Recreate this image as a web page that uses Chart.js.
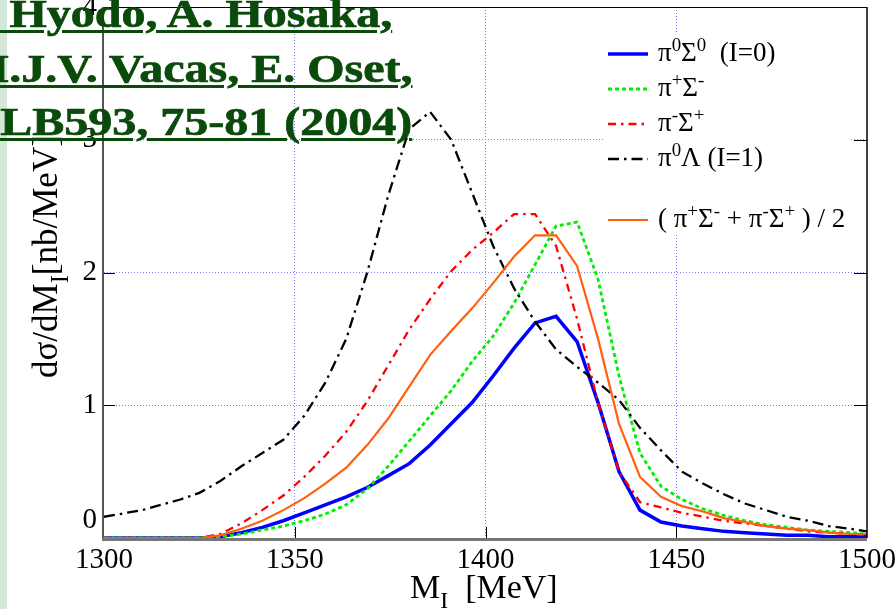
<!DOCTYPE html>
<html>
<head>
<meta charset="utf-8">
<script src="https://cdn.jsdelivr.net/npm/chart.js@4.4.1/dist/chart.umd.min.js"></script>
<style>
  body { margin: 0; background: #fff; }
  #wrap { position: relative; width: 896px; height: 609px; overflow: hidden; background: #fff; }
  #strip { position: absolute; left: 0; top: 0; width: 7px; height: 609px; background: #d3e8d9; }
  #chart { position: absolute; left: 0; top: 0; }
  .ref {
    position: absolute;
    font: bold 40px "Liberation Serif", "Times New Roman", serif;
    line-height: 40px;
    color: #0a4a0a;
    -webkit-text-stroke: 0.7px #0a4a0a;
    white-space: nowrap;
    text-decoration: underline;
    text-decoration-thickness: 3px;
    text-underline-offset: 3px;
    transform: scaleX(1.2);
    transform-origin: 0 0;
  }
</style>
</head>
<body>
<div id="wrap">
  <div id="strip"></div>
  <canvas id="chart" width="896" height="609"></canvas>
  <div class="ref" style="top:-6px;left:-43px">T. Hyodo, A. Hosaka,</div>
  <div class="ref" style="top:49px;left:-36px">M.J.V. Vacas, E. Oset,</div>
  <div class="ref" style="top:102px;left:-29px">PLB593, 75-81 (2004)</div>
</div>
<script>
// invariant mass M_I [MeV]
const masses = [1300, 1310, 1320, 1325, 1330.5, 1336, 1341.5, 1347, 1352.5, 1358,
  1363.5, 1369, 1374.5, 1380, 1385.5, 1391, 1396.5, 1402, 1407.5, 1413,
  1418.5, 1424, 1429.5, 1435, 1440.5, 1446, 1451.5, 1457, 1462.5, 1468,
  1473.5, 1479, 1484.5, 1490, 1495.5, 1500];

// dsigma/dM_I [nb/MeV]
const pi0Sigma0 = [0, 0, 0, 0, 0.01, 0.04, 0.08, 0.13, 0.19, 0.25,
  0.31, 0.38, 0.47, 0.56, 0.70, 0.86, 1.02, 1.22, 1.43, 1.62,
  1.67, 1.48, 1.02, 0.50, 0.21, 0.12, 0.09, 0.07, 0.05, 0.04,
  0.03, 0.02, 0.02, 0.01, 0.01, 0.01];
const piPlusSigmaMinus = [0, 0, 0, 0, 0.01, 0.03, 0.06, 0.09, 0.13, 0.18,
  0.25, 0.37, 0.54, 0.73, 0.92, 1.11, 1.33, 1.52, 1.77, 2.06,
  2.35, 2.38, 1.95, 1.22, 0.64, 0.39, 0.29, 0.22, 0.17, 0.13,
  0.10, 0.08, 0.06, 0.05, 0.04, 0.03];
const piMinusSigmaPlus = [0, 0, 0, 0, 0.03, 0.11, 0.21, 0.32, 0.46, 0.62,
  0.80, 1.03, 1.30, 1.57, 1.80, 2.01, 2.17, 2.30, 2.44, 2.44,
  2.20, 1.65, 1.02, 0.50, 0.27, 0.23, 0.19, 0.16, 0.13, 0.11,
  0.09, 0.07, 0.05, 0.04, 0.03, 0.02];
const pi0Lambda = [0.16, 0.21, 0.29, 0.34, 0.43, 0.54, 0.64, 0.74, 0.92, 1.17,
  1.50, 2.00, 2.58, 3.08, 3.21, 3.00, 2.60, 2.20, 1.88, 1.63,
  1.42, 1.29, 1.17, 1.04, 0.83, 0.66, 0.50, 0.41, 0.33, 0.26,
  0.21, 0.16, 0.13, 0.09, 0.07, 0.05];
const chargedAverage = [0, 0, 0, 0, 0.02, 0.07, 0.13, 0.21, 0.30, 0.41,
  0.53, 0.70, 0.90, 1.14, 1.38, 1.56, 1.73, 1.92, 2.12, 2.28,
  2.28, 2.05, 1.50, 0.86, 0.46, 0.31, 0.24, 0.20, 0.15, 0.12,
  0.09, 0.07, 0.06, 0.04, 0.03, 0.03];

const xTicks = [1300, 1350, 1400, 1450, 1500];
const yTicks = [0, 1, 2, 3, 4];

// legend texts: [text, "sup"|undefined]
const legendTexts = [
  [["π"], ["0", "sup"], ["Σ"], ["0", "sup"], ["  (I=0)"]],
  [["π"], ["+", "sup"], ["Σ"], ["-", "sup"]],
  [["π"], ["-", "sup"], ["Σ"], ["+", "sup"]],
  [["π"], ["0", "sup"], ["Λ (I=1)"]],
  [["( π"], ["+", "sup"], ["Σ"], ["-", "sup"], [" + π"], ["-", "sup"], ["Σ"], ["+", "sup"], [" ) / 2"]]
];

const serif = '"Liberation Serif", "Times New Roman", serif';

function pts(ys) {
  return masses.map((m, i) => ({ x: m, y: ys[i] }));
}

function drawRich(ctx, parts, x, y, size) {
  parts.forEach(([t, k]) => {
    const s = k ? size * 0.7 : size;
    ctx.font = s + "px " + serif;
    let dy = 0;
    if (k === "sup") dy = -size * 0.38;
    if (k === "sub") dy = size * 0.3;
    ctx.fillText(t, x, y + dy);
    x += ctx.measureText(t).width;
  });
  return x;
}

function line(ctx, x1, y1, x2, y2) {
  ctx.beginPath();
  ctx.moveTo(x1, y1);
  ctx.lineTo(x2, y2);
  ctx.stroke();
}

// frame, inward ticks, axis titles and legend
const decorations = {
  id: "decorations",
  afterDatasetsDraw(chart) {
    const { ctx, chartArea: a, scales: { x, y } } = chart;
    ctx.save();
    ctx.setLineDash([]);
    ctx.strokeStyle = "#000";
    ctx.lineWidth = 1;
    yTicks.forEach(v => {
      if (v === yTicks[0] || v === yTicks[yTicks.length - 1]) return;
      const py = Math.round(y.getPixelForValue(v)) + 0.5;
      line(ctx, a.left, py, a.left + 11, py);
      line(ctx, a.right - 13, py, a.right, py);
    });
    xTicks.forEach(v => {
      if (v === xTicks[0] || v === xTicks[xTicks.length - 1]) return;
      const px = Math.round(x.getPixelForValue(v)) + 0.5;
      line(ctx, px, a.bottom, px, a.bottom - 11);
    });
    // frame
    ctx.strokeStyle = "#000";
    ctx.lineWidth = 1;
    line(ctx, a.left, a.top + 0.5, a.right, a.top + 0.5);
    ctx.lineWidth = 1.5;
    line(ctx, a.right, a.top, a.right, a.bottom);
    ctx.strokeStyle = "#555";
    ctx.lineWidth = 2;
    line(ctx, a.left - 1, a.top, a.left - 1, a.bottom);
    ctx.strokeStyle = "#777";
    ctx.lineWidth = 3;
    line(ctx, a.left - 2, a.bottom + 1.5, a.right, a.bottom + 1.5);

    // axis titles
    ctx.fillStyle = "#000";
    ctx.textBaseline = "alphabetic";
    ctx.textAlign = "left";
    drawRich(ctx, [["M"], ["I", "sub"], ["  [MeV]"]], 410, 598, 34);
    ctx.save();
    ctx.translate(57, 378);
    ctx.rotate(-Math.PI / 2);
    drawRich(ctx, [["dσ/dM"], ["I", "sub"], ["[nb/MeV]"]], 0, 0, 35);
    ctx.restore();

    // legend
    ctx.fillStyle = "#fff";
    ctx.fillRect(603, 33, 247, 200);
    const baselines = [61, 96, 131, 166, 227];
    chart.data.datasets.forEach((ds, i) => {
      const ly = baselines[i] - 7;
      ctx.strokeStyle = ds.borderColor;
      ctx.lineWidth = ds.borderWidth;
      ctx.setLineDash(ds.borderDash || []);
      line(ctx, 608, ly, 648, ly);
      ctx.setLineDash([]);
      ctx.fillStyle = "#000";
      drawRich(ctx, legendTexts[i], 658, baselines[i], 27);
    });
    ctx.restore();
  }
};

const gridColor = (edges) => (c) =>
  c.tick && edges.includes(c.tick.value) ? "rgba(0,0,0,0)" : "#7b7bff";

const ctx = document.getElementById("chart").getContext("2d");
const chart = new Chart(ctx, {
  type: "line",
  data: {
    datasets: [
      { label: "pi0 Sigma0 (I=0)", data: pts(pi0Sigma0), borderColor: "#0000ff", borderWidth: 3.5, order: 5 },
      { label: "pi+ Sigma-", data: pts(piPlusSigmaMinus), borderColor: "#00ee00", borderWidth: 2.8, borderDash: [4, 3], order: 4 },
      { label: "pi- Sigma+", data: pts(piMinusSigmaPlus), borderColor: "#ff0000", borderWidth: 2.3, borderDash: [8, 5, 2.5, 5], order: 2 },
      { label: "pi0 Lambda (I=1)", data: pts(pi0Lambda), borderColor: "#000000", borderWidth: 2.3, borderDash: [11, 5, 2.5, 5], order: 3 },
      { label: "(pi+Sigma- + pi-Sigma+)/2", data: pts(chargedAverage), borderColor: "#ff6010", borderWidth: 2.2, order: 1 }
    ]
  },
  options: {
    responsive: false,
    animation: false,
    devicePixelRatio: 1,
    layout: { padding: { top: 7, right: 29, left: 0, bottom: 0 } },
    elements: { point: { radius: 0 }, line: { tension: 0, fill: false } },
    plugins: { legend: { display: false }, tooltip: { enabled: false } },
    scales: {
      x: {
        type: "linear",
        min: xTicks[0],
        max: xTicks[xTicks.length - 1],
        afterBuildTicks: s => { s.ticks = xTicks.map(v => ({ value: v })); },
        afterFit: s => { s.height = 71; s.paddingLeft = 0; s.paddingRight = 0; },
        grid: { color: gridColor([1300, 1500]), lineWidth: 1, drawTicks: false },
        border: { display: false, dash: [1, 2] },
        ticks: {
          padding: 5, color: "#000", maxRotation: 0, autoSkip: false,
          font: { family: serif, size: 29 },
          callback: v => String(v)
        }
      },
      y: {
        type: "linear",
        min: yTicks[0],
        max: yTicks[yTicks.length - 1],
        afterBuildTicks: s => { s.ticks = yTicks.map(v => ({ value: v })); },
        afterFit: s => { s.width = 104; s.paddingTop = 0; s.paddingBottom = 0; },
        grid: { color: gridColor([0, 4]), lineWidth: 1, drawTicks: false },
        border: { display: false, dash: [1, 2] },
        ticks: {
          padding: 7, color: "#000", autoSkip: false,
          font: { family: serif, size: 29 },
          callback: v => (v === 0 ? ["0", ""] : String(v))
        }
      }
    }
  },
  plugins: [decorations]
});
</script>
</body>
</html>
